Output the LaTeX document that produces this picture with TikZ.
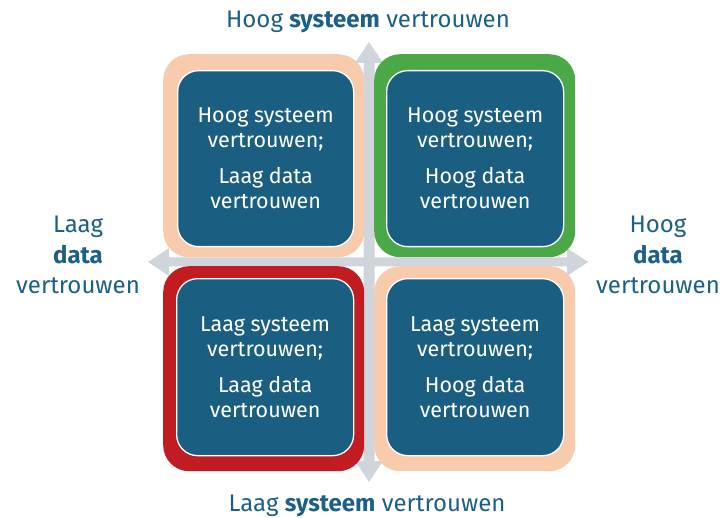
\documentclass[tikz,border=0pt]{standalone}
\usepackage{fontspec}
\setmainfont{Fira Sans}
\begin{document}
\definecolor{cellblue}{HTML}{1A5F82}
\definecolor{labelblue}{HTML}{1A6088}
\definecolor{peach}{HTML}{F8CBAD}
\definecolor{okgreen}{HTML}{4BA846}
\definecolor{alertred}{HTML}{C01C22}
\definecolor{axisgray}{HTML}{D0D5DC}
\begin{tikzpicture}[x=1pt,y=-1pt,
  axis/.style={fill=axisgray},
  frame/.style={rounded corners=26pt, inner sep=0pt, anchor=north west},
  cell/.style={fill=cellblue, draw=white, line width=1.3pt, rounded corners=21pt,
    anchor=north west, inner sep=0pt, text=white, align=center,
    font=\fontsize{21.5}{25}\selectfont},
  axislabel/.style={text=labelblue, align=center, font=\fontsize{24}{30.5}\selectfont}]
\useasboundingbox (0,0) rectangle (727,518);

% vertical axis (double-headed)
\fill[axis] (369,42) -- (383,63) -- (374.5,63) -- (374.5,461) -- (383,461)
  -- (369,482) -- (355,461) -- (363.5,461) -- (363.5,63) -- (355,63) -- cycle;
% horizontal axis (double-headed)
\fill[axis] (148,262) -- (169,248) -- (169,257.5) -- (567,257.5) -- (567,248)
  -- (588,262) -- (567,276) -- (567,266.5) -- (169,266.5) -- (169,276) -- cycle;

% coloured frames
\node[frame, fill=peach, minimum width=201pt, minimum height=203pt] (fTL) at (163,54) {};
\node[frame, fill=okgreen, minimum width=201pt, minimum height=203pt] (fTR) at (374,54) {};
\node[frame, fill=alertred, minimum width=201pt, minimum height=205pt] (fBL) at (163,266) {};
\node[frame, fill=peach, minimum width=201pt, minimum height=205pt] (fBR) at (374,266) {};

% quadrant cells
\node[cell, minimum width=176pt, minimum height=176pt] (cTL) at (177,70)
  {Hoog systeem\\vertrouwen;\\[11pt]Laag data\\vertrouwen};
\node[cell, minimum width=177pt, minimum height=176pt] (cTR) at (386,70)
  {Hoog systeem\\vertrouwen;\\[11pt]Hoog data\\vertrouwen};
\node[cell, minimum width=177pt, minimum height=177pt] (cBL) at (176,278)
  {Laag systeem\\vertrouwen;\\[11pt]Laag data\\vertrouwen};
\node[cell, minimum width=177pt, minimum height=177pt] (cBR) at (386,278)
  {Laag systeem\\vertrouwen;\\[11pt]Hoog data\\vertrouwen};

% axis labels
\node[axislabel, anchor=base] (top) at (368,28) {Hoog \textbf{systeem} vertrouwen};
\node[axislabel, anchor=base] (bottom) at (367,511) {Laag \textbf{systeem} vertrouwen};
\node[axislabel] (left) at (78,255) {Laag\\\textbf{data}\\vertrouwen};
\node[axislabel] (right) at (658,255) {Hoog\\\textbf{data}\\vertrouwen};
\end{tikzpicture}
\end{document}
